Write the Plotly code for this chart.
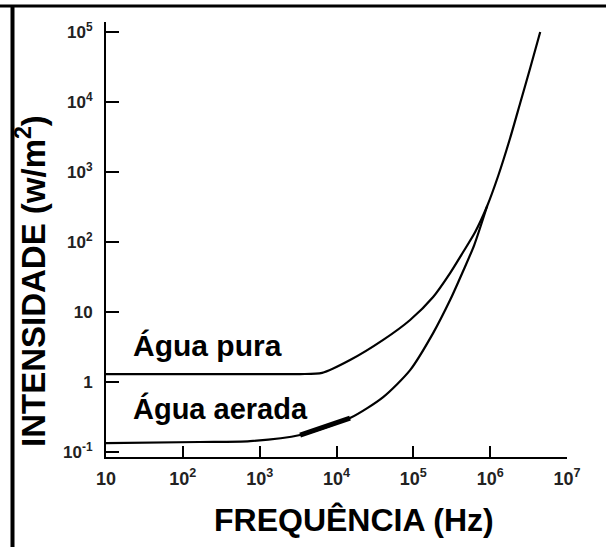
import plotly.graph_objects as go

# ---- data ----
freq_pura = [10, 100, 1000, 3360, 6500, 1.5e4, 4.05e4, 9.08e4, 1.81e5, 3.01e5, 4.45e5,
             6.38e5, 9.14e5, 1.27e6, 1.82e6, 2.46e6, 3.32e6, 4.48e6]
int_pura = [1.3, 1.3, 1.3, 1.3, 1.35, 2.06, 4.0, 7.7, 16.4, 36, 72,
            139, 327, 877, 3060, 9680, 30600, 1.0e5]

freq_aerada = [10, 166, 750, 3360, 1.5e4, 4.05e4, 9.08e4, 1.81e5, 3.01e5, 4.45e5, 6.2e5, 9.14e5]
int_aerada = [0.134, 0.139, 0.143, 0.175, 0.306, 0.61, 1.48, 5.0, 14.8, 38.5, 90.6, 327]

# segment of the aerated-water curve drawn with a heavier stroke
thick_from, thick_to = 3360, 1.5e4

x_tickvals = [10, 1e2, 1e3, 1e4, 1e5, 1e6, 1e7]
x_ticktext = ["10", "10<sup>2</sup>", "10<sup>3</sup>", "10<sup>4</sup>",
              "10<sup>5</sup>", "10<sup>6</sup>", "10<sup>7</sup>"]
y_tickvals = [0.1, 1, 10, 1e2, 1e3, 1e4, 1e5]
y_ticktext = ["10<sup>-1</sup>", "1", "10", "10<sup>2</sup>", "10<sup>3</sup>",
              "10<sup>4</sup>", "10<sup>5</sup>"]

label_pura = "Água pura"
label_aerada = "Água aerada"
x_title = "FREQUÊNCIA (Hz)"
y_title = "INTENSIDADE (w/m<sup>2</sup>)"

FONT = "Liberation Sans, Arial, sans-serif"

line_style = dict(color="black", width=2.2, shape="spline", smoothing=0.7)

fig = go.Figure()
fig.add_trace(go.Scatter(x=freq_pura, y=int_pura, mode="lines", line=line_style,
                         showlegend=False, hoverinfo="skip"))
fig.add_trace(go.Scatter(x=freq_aerada, y=int_aerada, mode="lines", line=line_style,
                         showlegend=False, hoverinfo="skip"))
tx = [f for f in freq_aerada if thick_from <= f <= thick_to]
ty = [v for f, v in zip(freq_aerada, int_aerada) if thick_from <= f <= thick_to]
fig.add_trace(go.Scatter(x=tx, y=ty, mode="lines", line=dict(color="black", width=5),
                         showlegend=False, hoverinfo="skip"))

# plot area geometry (pixels)
L, R, T, B = 106, 567, 22, 457
W, H = R - L, B - T

def px(xp):
    return (xp - L) / W

def py(yp):
    return (B - yp) / H

annos = [
    dict(text=label_pura, x=px(131), y=py(345), xanchor="left", yanchor="middle",
         font=dict(size=30, color="black", family=FONT, weight="bold")),
    dict(text=label_aerada, x=px(131), y=py(408), xanchor="left", yanchor="middle",
         font=dict(size=29, color="black", family=FONT, weight="bold")),
    dict(text=x_title, x=px(354), y=py(520), xanchor="center", yanchor="middle",
         font=dict(size=32, color="black", family=FONT, weight="bold")),
    dict(text=y_title, x=px(31), y=py(281), xanchor="center", yanchor="middle",
         textangle=-90, font=dict(size=33, color="black", family=FONT, weight="bold")),
]
for a in annos:
    a.update(xref="paper", yref="paper", showarrow=False)

shapes = [
    dict(type="line", xref="paper", yref="paper", x0=px(0), x1=px(606), y0=py(6), y1=py(6),
         line=dict(color="black", width=3)),
    dict(type="line", xref="paper", yref="paper", x0=px(12.5), x1=px(12.5), y0=py(5), y1=py(547),
         line=dict(color="black", width=4)),
]

fig.update_layout(
    width=606, height=547, autosize=False,
    margin=dict(l=L, r=606 - R, t=T, b=547 - B, pad=0),
    paper_bgcolor="white", plot_bgcolor="white",
    annotations=annos, shapes=shapes,
    font=dict(family=FONT),
)
fig.update_xaxes(type="log", range=[1, 7], showgrid=False, zeroline=False,
                 showline=True, linecolor="black", linewidth=2,
                 ticks="inside", ticklen=11, tickwidth=2, tickcolor="black",
                 tickvals=x_tickvals, ticktext=x_ticktext,
                 tickfont=dict(size=18, color="#222", family=FONT, weight="bold"),
                 ticklabelstandoff=4)
fig.update_yaxes(type="log", range=[-1.071, 5.143], showgrid=False, zeroline=False,
                 showline=True, linecolor="black", linewidth=2,
                 ticks="inside", ticklen=13, tickwidth=2, tickcolor="black",
                 tickvals=y_tickvals, ticktext=y_ticktext,
                 tickfont=dict(size=17, color="#222", family=FONT, weight="bold"),
                 ticklabelstandoff=8)

fig.write_html("out.html")
